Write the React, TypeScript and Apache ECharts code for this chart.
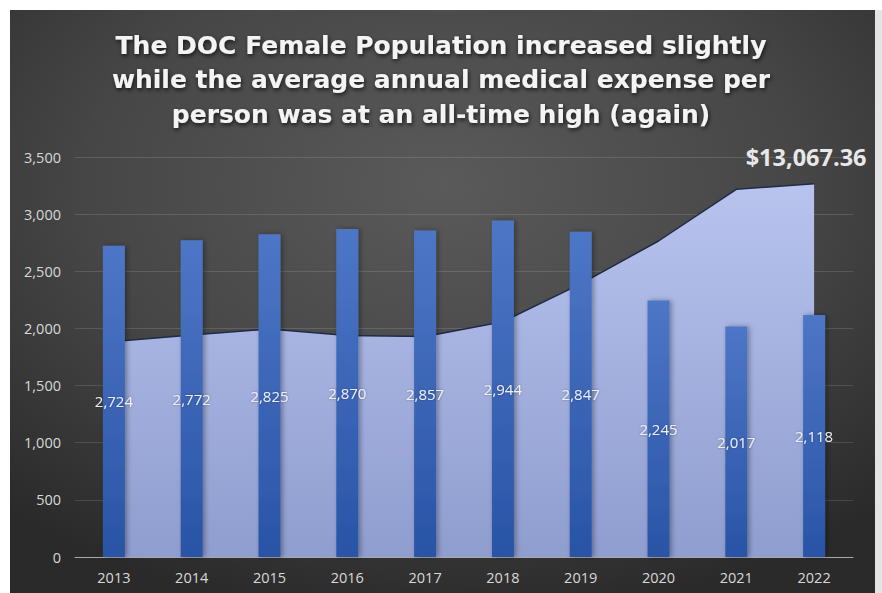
import React, { useEffect, useRef } from "react";
import * as echarts from "echarts";

const years = ["2013", "2014", "2015", "2016", "2017", "2018", "2019", "2020", "2021", "2022"];
const femalePopulation = [2724, 2772, 2825, 2870, 2857, 2944, 2847, 2245, 2017, 2118];
const medicalExpensePerPerson = [7540, 7767, 7980, 7756, 7720, 8236, 9562, 11060, 12869, 13067.36];
const titleLines = [
  "The DOC Female Population increased slightly",
  "while the average annual medical expense per",
  "person was at an all-time high (again)",
];

export default function App() {
  const ref = useRef<HTMLDivElement>(null);
  useEffect(() => {
    if (!ref.current) return;
    const chart = echarts.init(ref.current, null, { renderer: "svg" });
    const last = medicalExpensePerPerson.length - 1;
    const font = "'Open Sans', 'Noto Sans', sans-serif";
    chart.setOption({
      animation: false,
      backgroundColor: "#ffffff",
      textStyle: { fontFamily: font },
      graphic: [
        {
          type: "rect",
          z: -10,
          shape: { x: 10, y: 10, width: 865, height: 583 },
          style: {
            fill: {
              type: "radial",
              x: 0.5,
              y: 0.3,
              r: 0.75,
              colorStops: [
                { offset: 0, color: "#5a5a5a" },
                { offset: 0.55, color: "#464646" },
                { offset: 1, color: "#2a2a2a" },
              ],
            },
          },
        },
        {
          type: "rect",
          z: -10,
          shape: { x: 875, y: 10, width: 7, height: 583 },
          style: { fill: "#e4e4e4" },
        },
      ],
      title: {
        text: titleLines.join("\n"),
        left: "center",
        top: 23,
        textStyle: {
          color: "#f4f4f4",
          fontFamily: "'DejaVu Sans', sans-serif",
          fontWeight: "bold",
          fontSize: 25,
          lineHeight: 34.5,
          textShadowColor: "rgba(0,0,0,0.7)",
          textShadowBlur: 4,
          textShadowOffsetX: 1,
          textShadowOffsetY: 2,
        },
      },
      grid: { left: 75, right: 29, top: 157, bottom: 36 },
      xAxis: {
        type: "category",
        data: years,
        boundaryGap: true,
        axisTick: { show: false },
        axisLine: { lineStyle: { color: "#a8a8a8", width: 1 } },
        axisLabel: { color: "#d8d8d8", fontSize: 14.5, margin: 13, fontFamily: font },
      },
      yAxis: [
        {
          type: "value",
          min: 0,
          max: 3500,
          interval: 500,
          axisLine: { show: false },
          axisTick: { show: false },
          splitLine: { lineStyle: { color: "rgba(255,255,255,0.13)", width: 1 } },
          axisLabel: {
            color: "#d8d8d8",
            fontSize: 14.5,
            margin: 14,
            fontFamily: font,
            formatter: (v: number) => v.toLocaleString("en-US"),
          },
        },
        {
          type: "value",
          min: 0,
          max: 14000,
          show: false,
          splitLine: { show: false },
        },
      ],
      series: [
        {
          type: "line",
          yAxisIndex: 1,
          z: 1,
          symbol: "circle",
          symbolSize: 0,
          showSymbol: true,
          data: medicalExpensePerPerson.map((v, i) =>
            i === last
              ? {
                  value: v,
                  label: {
                    show: true,
                    position: "top",
                    offset: [-8, -10],
                    color: "#e8e8e8",
                    fontSize: 23.5,
                    fontWeight: "bold",
                    fontFamily: font,
                    formatter: (p: any) =>
                      "$" +
                      Number(p.value).toLocaleString("en-US", {
                        minimumFractionDigits: 2,
                        maximumFractionDigits: 2,
                      }),
                  },
                }
              : v
          ),
          lineStyle: { color: "#1f2b47", width: 1.5 },
          areaStyle: {
            opacity: 1,
            color: {
              type: "linear",
              x: 0,
              y: 0,
              x2: 0,
              y2: 1,
              colorStops: [
                { offset: 0, color: "#b8c4ee" },
                { offset: 1, color: "#8f9dcf" },
              ],
            },
          },
        },
        {
          type: "bar",
          z: 2,
          barWidth: 22,
          data: femalePopulation,
          itemStyle: {
            color: {
              type: "linear",
              x: 0,
              y: 0,
              x2: 0,
              y2: 1,
              colorStops: [
                { offset: 0, color: "#4e76c6" },
                { offset: 1, color: "#2954a6" },
              ],
            },
            shadowColor: "rgba(0,0,0,0.35)",
            shadowBlur: 5,
            shadowOffsetX: 2,
          },
          label: {
            show: true,
            position: "inside",
            color: "#eceef6",
            fontSize: 15,
            fontFamily: font,
            formatter: (p: any) => Number(p.value).toLocaleString("en-US"),
            textShadowColor: "rgba(0,0,0,0.35)",
            textShadowBlur: 2,
          },
        },
      ],
    });
    return () => chart.dispose();
  }, []);
  return (
    <div
      ref={ref}
      style={{ position: "fixed", left: 0, top: 0, width: 882, height: 593 }}
    />
  );
}
